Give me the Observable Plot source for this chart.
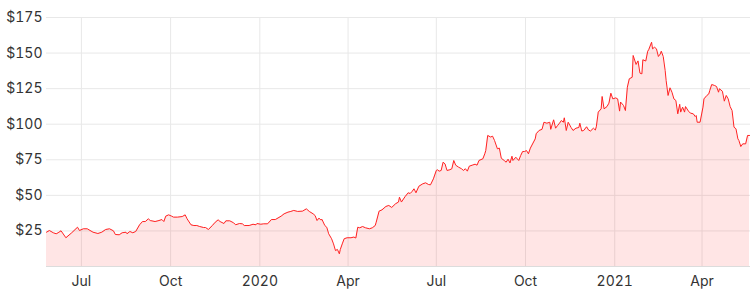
<!DOCTYPE html>
<html><head><meta charset="utf-8">
<script src="https://cdn.jsdelivr.net/npm/d3@7"></script>
<script src="https://cdn.jsdelivr.net/npm/@observablehq/plot@0.6"></script>
<style>body{margin:0;background:#fff}</style>
</head><body><div id="chart"></div>
<script>
const dates = [
"2019-05-26","2019-05-29","2019-06-02","2019-06-05","2019-06-07","2019-06-10","2019-06-15","2019-06-21","2019-06-27","2019-06-29",
"2019-07-03","2019-07-07","2019-07-13","2019-07-18","2019-07-22","2019-07-26","2019-07-30","2019-08-03","2019-08-05","2019-08-09",
"2019-08-12","2019-08-16","2019-08-17","2019-08-20","2019-08-23","2019-08-26","2019-08-30","2019-09-02","2019-09-05","2019-09-08",
"2019-09-10","2019-09-15","2019-09-19","2019-09-22","2019-09-24","2019-09-26","2019-09-29","2019-10-02","2019-10-04","2019-10-08",
"2019-10-13","2019-10-16","2019-10-18","2019-10-22","2019-10-25","2019-10-28","2019-10-31","2019-11-04","2019-11-06","2019-11-09",
"2019-11-13","2019-11-16","2019-11-19","2019-11-21","2019-11-25","2019-11-27","2019-12-01","2019-12-05","2019-12-07","2019-12-11",
"2019-12-14","2019-12-16","2019-12-21","2019-12-25","2019-12-28","2019-12-29","2020-01-02","2020-01-05","2020-01-09","2020-01-13",
"2020-01-17","2020-01-23","2020-01-26","2020-01-30","2020-02-02","2020-02-05","2020-02-09","2020-02-14","2020-02-18","2020-02-21",
"2020-02-25","2020-02-27","2020-02-29","2020-03-02","2020-03-04","2020-03-05","2020-03-08","2020-03-10","2020-03-12","2020-03-15",
"2020-03-17","2020-03-19","2020-03-21","2020-03-23","2020-03-24","2020-03-26","2020-03-28","2020-03-31","2020-04-04","2020-04-07",
"2020-04-09","2020-04-11","2020-04-13","2020-04-16","2020-04-19","2020-04-23","2020-04-26","2020-04-29","2020-04-30","2020-05-03",
"2020-05-06","2020-05-10","2020-05-13","2020-05-16","2020-05-20","2020-05-23","2020-05-24","2020-05-26","2020-05-30","2020-06-02",
"2020-06-04","2020-06-06","2020-06-08","2020-06-10","2020-06-13","2020-06-17","2020-06-20","2020-06-23","2020-06-25","2020-06-28",
"2020-07-01","2020-07-02","2020-07-04","2020-07-06","2020-07-08","2020-07-10","2020-07-12","2020-07-15","2020-07-17","2020-07-19",
"2020-07-21","2020-07-24","2020-07-27","2020-07-29","2020-07-31","2020-08-02","2020-08-04","2020-08-07","2020-08-10","2020-08-12",
"2020-08-14","2020-08-18","2020-08-20","2020-08-21","2020-08-23","2020-08-26","2020-08-28","2020-08-30","2020-09-02","2020-09-04",
"2020-09-06","2020-09-09","2020-09-11","2020-09-13","2020-09-15","2020-09-17","2020-09-18","2020-09-21","2020-09-24","2020-09-26",
"2020-09-28","2020-09-30","2020-10-02","2020-10-04","2020-10-06","2020-10-11","2020-10-12","2020-10-15","2020-10-18","2020-10-20",
"2020-10-23","2020-10-26","2020-10-27","2020-10-30","2020-11-01","2020-11-03","2020-11-05","2020-11-07","2020-11-09","2020-11-10",
"2020-11-12","2020-11-14","2020-11-17","2020-11-19","2020-11-22","2020-11-25","2020-11-26","2020-11-28","2020-11-30","2020-12-03",
"2020-12-05","2020-12-07","2020-12-10","2020-12-12","2020-12-13","2020-12-15","2020-12-18","2020-12-19","2020-12-21","2020-12-24",
"2020-12-26","2020-12-28","2020-12-30","2021-01-02","2021-01-04","2021-01-06","2021-01-07","2021-01-10","2021-01-12","2021-01-14",
"2021-01-16","2021-01-19","2021-01-20","2021-01-23","2021-01-25","2021-01-27","2021-01-29","2021-01-30","2021-02-02","2021-02-04",
"2021-02-05","2021-02-08","2021-02-09","2021-02-11","2021-02-13","2021-02-15","2021-02-17","2021-02-18","2021-02-20","2021-02-22",
"2021-02-23","2021-02-25","2021-02-27","2021-03-01","2021-03-03","2021-03-05","2021-03-07","2021-03-09","2021-03-10","2021-03-12",
"2021-03-14","2021-03-15","2021-03-18","2021-03-20","2021-03-23","2021-03-25","2021-03-26","2021-03-27","2021-03-30","2021-04-02",
"2021-04-03","2021-04-06","2021-04-08","2021-04-09","2021-04-11","2021-04-14","2021-04-16","2021-04-18","2021-04-19","2021-04-22",
"2021-04-24","2021-04-26","2021-04-28","2021-04-30","2021-05-02","2021-05-04","2021-05-06","2021-05-08","2021-05-09","2021-05-11",
"2021-05-13","2021-05-16","2021-05-18","2021-05-20"
];
const prices = [
24.1,25.3,23.7,23.0,23.7,25.1,20.2,23.7,27.6,25.3,
26.5,26.5,24.1,23.2,24.1,26.0,26.5,25.1,22.5,22.3,
23.7,24.1,23.0,24.6,23.7,24.6,29.3,31.6,31.6,33.5,
32.3,31.6,32.3,33.0,31.6,35.4,36.3,35.4,34.7,34.7,
35.1,36.3,33.5,29.3,28.8,28.8,28.1,27.4,27.4,26.0,
28.8,31.1,32.8,31.6,30.2,32.1,32.1,30.7,29.3,30.2,
30.0,28.8,28.8,29.7,29.3,30.2,29.7,30.0,30.0,33.0,
33.0,35.4,37.0,38.2,38.7,39.4,38.7,38.9,40.5,38.7,
37.0,35.8,32.3,34.0,32.6,33.2,28.8,27.6,23.0,19.5,
15.9,11.2,12.0,8.9,12.0,15.9,19.5,20.2,20.2,20.7,
20.0,27.6,27.2,28.1,27.2,26.5,27.2,28.8,31.1,38.9,
39.8,42.2,42.9,41.5,44.1,45.3,48.7,45.3,49.3,51.8,
51.3,52.7,54.6,51.8,56.4,58.1,58.8,57.6,57.4,61.6,
67.5,68.0,67.0,67.5,73.3,72.1,67.5,68.0,68.7,74.5,
71.2,69.8,68.7,67.5,68.7,67.0,70.5,71.2,71.9,71.2,
74.5,75.7,79.2,81.5,92.1,91.0,91.6,88.6,82.7,83.2,
76.1,74.5,73.3,75.4,72.8,77.5,74.5,76.8,74.5,78.0,
80.8,80.8,81.5,79.2,83.2,89.7,93.3,95.6,96.4,101.4,
100.7,101.4,96.4,103.1,97.2,99.0,100.7,102.6,101.4,104.5,
95.6,101.4,97.7,95.6,97.2,97.7,100.7,95.2,95.6,98.2,
95.9,95.2,97.2,95.9,98.2,108.5,110.8,119.5,110.8,112.4,
114.8,121.8,117.8,118.5,117.8,109.2,115.6,113.2,109.6,126.0,
131.9,133.0,148.3,142.0,144.5,135.9,135.4,145.3,144.4,151.3,
152.3,157.6,153.0,154.1,153.0,147.6,149.4,151.3,147.6,137.7,
130.7,120.2,125.6,122.5,117.8,116.7,107.3,114.0,108.5,112.0,
108.5,112.4,109.2,107.8,107.3,105.4,106.1,101.4,101.4,112.0,
117.8,120.2,121.3,123.7,127.9,127.2,126.5,122.5,124.9,123.2,
116.2,120.2,117.8,112.4,109.6,97.9,96.8,89.7,88.6,84.3,
86.2,86.2,92.1,92.1
];
const xTickDates = ["2019-07-01","2019-10-01","2020-01-01","2020-04-01","2020-07-01","2020-10-01","2021-01-01","2021-04-01"];
const yTickValues = [25, 50, 75, 100, 125, 150, 175];
const xDomainDates = ["2019-05-26", "2021-05-21"];
const yDomain = [0, 175];

const data = dates.map((d, i) => ({date: new Date(d), price: prices[i]}));
const xt = xTickDates.map(d => new Date(d));
const fmtMonth = d3.utcFormat("%b"), fmtYear = d3.utcFormat("%Y");

const chart = Plot.plot({
  width: 755, height: 301,
  marginTop: 17, marginBottom: 35, marginLeft: 46, marginRight: 5,
  style: {fontFamily: "Inter, sans-serif", fontSize: "14px", color: "#333", background: "#fff"},
  x: {type: "utc", domain: xDomainDates.map(d => new Date(d)), ticks: xt,
      tickFormat: d => d.getUTCMonth() === 0 ? fmtYear(d) : fmtMonth(d),
      tickSize: 0, tickPadding: 10, label: null},
  y: {domain: yDomain, ticks: yTickValues, tickFormat: d => "$" + d,
      tickSize: 0, tickPadding: 4, label: null},
  marks: [
    Plot.ruleY(yTickValues, {stroke: "#e8e8e8"}),
    Plot.ruleX(xt, {stroke: "#e8e8e8"}),
    Plot.ruleY([0], {stroke: "#dcdcdc"}),
    Plot.areaY(data, {x: "date", y: "price", fill: "#ff0000", fillOpacity: 0.1}),
    Plot.lineY(data, {x: "date", y: "price", stroke: "#ff2222", strokeWidth: 1})
  ]
});
document.getElementById("chart").appendChild(chart);
</script>
</body></html>
